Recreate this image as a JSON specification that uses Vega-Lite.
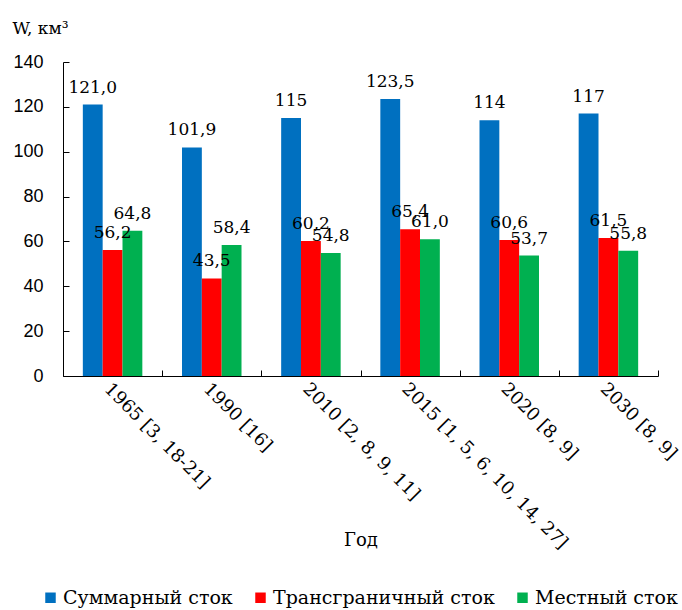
{
  "$schema": "https://vega.github.io/schema/vega-lite/v6.json",
  "autosize": "none",
  "width": 595,
  "height": 314,
  "padding": {"left": 63, "top": 62, "right": 24, "bottom": 234},
  "background": "white",
  "config": {
    "view": {"stroke": null},
    "axis": {"domainColor": "black", "tickColor": "black", "grid": false, "labelColor": "black", "titleColor": "black"}
  },
  "data": {
    "values": [
      {"year": "1965 [3, 18-21]", "series": "Суммарный сток", "value": 121.0, "label": "121,0"},
      {"year": "1965 [3, 18-21]", "series": "Трансграничный сток", "value": 56.2, "label": "56,2"},
      {"year": "1965 [3, 18-21]", "series": "Местный сток", "value": 64.8, "label": "64,8"},
      {"year": "1990 [16]", "series": "Суммарный сток", "value": 101.9, "label": "101,9"},
      {"year": "1990 [16]", "series": "Трансграничный сток", "value": 43.5, "label": "43,5"},
      {"year": "1990 [16]", "series": "Местный сток", "value": 58.4, "label": "58,4"},
      {"year": "2010 [2, 8, 9, 11]", "series": "Суммарный сток", "value": 115, "label": "115"},
      {"year": "2010 [2, 8, 9, 11]", "series": "Трансграничный сток", "value": 60.2, "label": "60,2"},
      {"year": "2010 [2, 8, 9, 11]", "series": "Местный сток", "value": 54.8, "label": "54,8"},
      {"year": "2015 [1, 5, 6, 10, 14, 27]", "series": "Суммарный сток", "value": 123.5, "label": "123,5"},
      {"year": "2015 [1, 5, 6, 10, 14, 27]", "series": "Трансграничный сток", "value": 65.4, "label": "65,4"},
      {"year": "2015 [1, 5, 6, 10, 14, 27]", "series": "Местный сток", "value": 61.0, "label": "61,0"},
      {"year": "2020 [8, 9]", "series": "Суммарный сток", "value": 114, "label": "114"},
      {"year": "2020 [8, 9]", "series": "Трансграничный сток", "value": 60.6, "label": "60,6"},
      {"year": "2020 [8, 9]", "series": "Местный сток", "value": 53.7, "label": "53,7"},
      {"year": "2030 [8, 9]", "series": "Суммарный сток", "value": 117, "label": "117"},
      {"year": "2030 [8, 9]", "series": "Трансграничный сток", "value": 61.5, "label": "61,5"},
      {"year": "2030 [8, 9]", "series": "Местный сток", "value": 55.8, "label": "55,8"}
    ]
  },
  "encoding": {
    "x": {
      "field": "year", "type": "nominal", "sort": null,
      "scale": {"paddingInner": 0, "paddingOuter": 0},
      "axis": {
        "tickBand": "extent", "tickSize": -6, "labelAngle": 45, "labelAlign": "left", "labelBaseline": "middle",
        "labelFont": "DejaVu Serif", "labelFontSize": 18, "labelPadding": 16, "labelOffset": -6, "labelLimit": 400,
        "title": "Год", "titleFont": "DejaVu Serif", "titleFontSize": 18, "titleFontWeight": "normal",
        "titleY": 164, "titleBaseline": "middle"
      }
    },
    "xOffset": {
      "field": "series", "type": "nominal",
      "sort": ["Суммарный сток", "Трансграничный сток", "Местный сток"],
      "scale": {"paddingInner": 0, "paddingOuter": 1.5}
    },
    "y": {
      "field": "value", "type": "quantitative",
      "scale": {"domain": [0, 140]},
      "axis": {
        "values": [0, 20, 40, 60, 80, 100, 120, 140], "tickSize": -6, "labelPadding": 26,
        "labelFont": "Liberation Sans", "labelFontSize": 18,
        "title": "W, км³", "titleAngle": 0, "titleAlign": "left", "titleBaseline": "middle",
        "titleX": -51, "titleY": -34, "titleFont": "DejaVu Serif", "titleFontSize": 17, "titleFontWeight": "normal"
      }
    }
  },
  "layer": [
    {
      "mark": {"type": "bar"},
      "encoding": {
        "color": {
          "field": "series", "type": "nominal",
          "sort": ["Суммарный сток", "Трансграничный сток", "Местный сток"],
          "scale": {"domain": ["Суммарный сток", "Трансграничный сток", "Местный сток"], "range": ["#0070C0", "#FF0000", "#00B050"]},
          "legend": {
            "title": null, "orient": "none", "direction": "horizontal", "legendX": -22, "legendY": 526,
            "symbolType": "square", "symbolSize": 110, "symbolStrokeWidth": 0, "labelFont": "DejaVu Serif", "labelFontSize": 19,
            "labelColor": "black", "columnPadding": 18, "labelOffset": 3, "labelLimit": 400
          }
        }
      }
    },
    {
      "mark": {"type": "text", "font": "DejaVu Serif", "fontSize": 17, "baseline": "middle", "dy": -17, "color": "black"},
      "encoding": {"text": {"field": "label"}}
    }
  ]
}
